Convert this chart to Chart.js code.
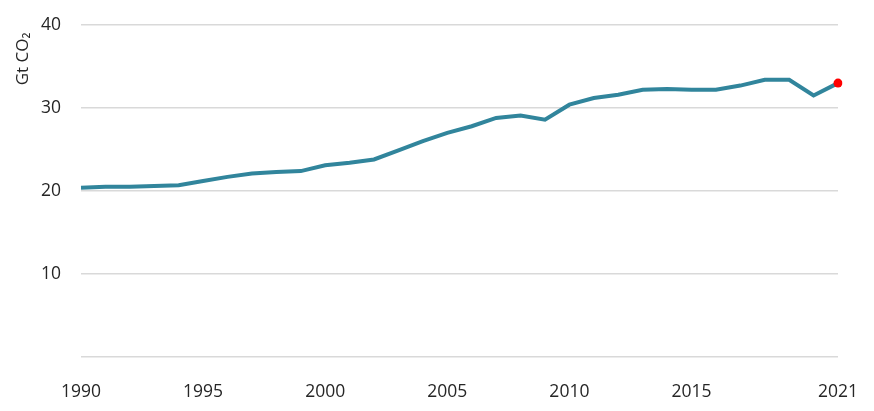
<!DOCTYPE html>
<html>
<head>
<meta charset="utf-8">
<script src="https://cdn.jsdelivr.net/npm/chart.js@4"></script>
<style>
  html, body { margin: 0; padding: 0; background: #fff; }
  #wrap { width: 874px; height: 411px; }
</style>
</head>
<body>
<div id="wrap"><canvas id="myChart" width="874" height="411"></canvas></div>
<script>
const years = [];
for (let y = 1990; y <= 2021; y++) years.push(String(y));

// Gt CO2
const emissions = [
  20.4, 20.5, 20.5, 20.6, 20.7, 21.2, 21.7, 22.1, 22.3, 22.4,
  23.1, 23.4, 23.8, 24.9, 26.0, 27.0, 27.8, 28.8, 29.1, 28.6,
  30.4, 31.2, 31.6, 32.2, 32.3, 32.2, 32.2, 32.7, 33.4, 33.4,
  31.5, 33.0
];
const xTickLabels = ["1990", "1995", "2000", "2005", "2010", "2015", "2021"];
const yTicks = [10, 20, 30, 40];
const yTitle = "Gt CO₂";

// only the last year gets the red marker
const lastPoint = emissions.map((v, i) => (i === emissions.length - 1 ? v : null));

const FONT = "'Open Sans', sans-serif";
const TEXT = "#262626";

// y title sits up near the top, not centred on the axis
const yTitlePlugin = {
  id: "yTitle",
  afterDraw(chart) {
    const c = chart.ctx;
    c.save();
    c.translate(23, 59);
    c.rotate(-Math.PI / 2);
    c.font = "17px " + FONT;
    c.fillStyle = TEXT;
    c.textAlign = "center";
    c.textBaseline = "middle";
    c.fillText(yTitle, 0, 0);
    c.restore();
  },
};

const ctx = document.getElementById("myChart").getContext("2d");

new Chart(ctx, {
  type: "line",
  data: {
    labels: years,
    datasets: [
      {
        data: lastPoint,
        borderColor: "#FF0000",
        backgroundColor: "#FF0000",
        pointRadius: 4.5,
        pointBorderWidth: 0,
        showLine: false,
      },
      {
        data: emissions,
        borderColor: "#31859C",
        borderWidth: 4,
        pointRadius: 0,
        tension: 0,
        fill: false,
      },
    ],
  },
  options: {
    responsive: false,
    animation: false,
    layout: { padding: { top: 25, right: 36, left: 14, bottom: 5 } },
    plugins: {
      legend: { display: false },
      tooltip: { enabled: false },
    },
    scales: {
      x: {
        offset: false,
        grid: { display: false },
        border: { display: false },
        ticks: {
          autoSkip: false,
          maxRotation: 0,
          padding: 17,
          color: TEXT,
          font: { family: FONT, size: 17.5 },
          callback: function (val) {
            const lab = this.getLabelForValue(val);
            return xTickLabels.includes(lab) ? lab : "";
          },
        },
        afterFit: (s) => {
          s.height = 49;
          s.paddingLeft = 0;
          s.paddingRight = 0;
        },
      },
      y: {
        min: 0,
        max: 40,
        afterBuildTicks: (s) => {
          s.ticks = [0].concat(yTicks).map((v) => ({ value: v }));
        },
        grid: { color: "#D9D9D9", lineWidth: 1.5, drawTicks: false },
        border: { display: false },
        ticks: {
          padding: 20,
          color: TEXT,
          font: { family: FONT, size: 17.5 },
          callback: (v) => (v === 0 ? "" : v),
        },
        afterFit: (s) => {
          s.width = 67;
          s.paddingTop = 0;
          s.paddingBottom = 0;
        },
      },
    },
  },
  plugins: [yTitlePlugin],
});
</script>
</body>
</html>
